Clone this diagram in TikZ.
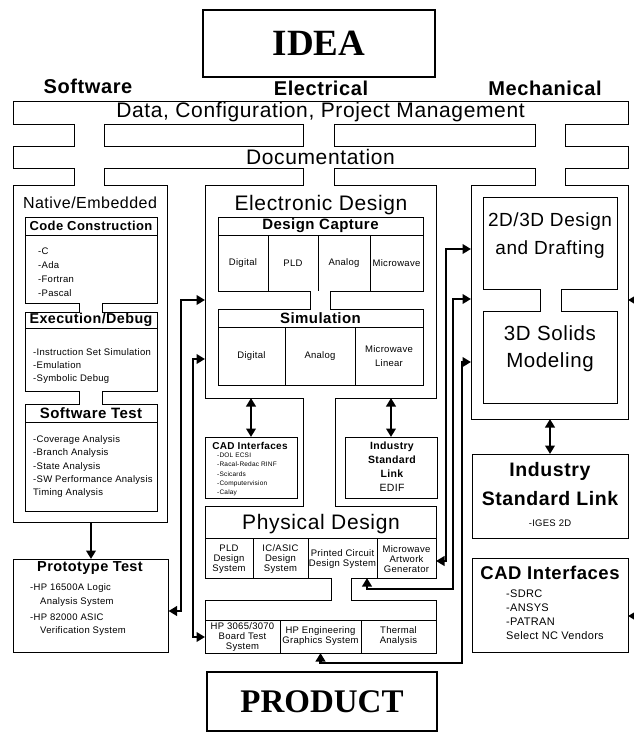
\documentclass[tikz,border=0pt]{standalone}
\usepackage{fontspec}
\setmainfont{Liberation Sans}[LetterSpace=3]
\newfontfamily\titlefont{Liberation Serif}
\usetikzlibrary{arrows.meta}

\newcommand{\fsz}[1]{\fontsize{#1}{#1}\selectfont}
% opening between two outlined boxes
\newcommand{\busgap}[4]{%
  \fill[white] (#1+0.5,#3-1.5) rectangle (#2-0.5,#4+1.5);
  \draw[rule] (#1,#3) -- (#1,#4) (#2,#3) -- (#2,#4);}

\begin{document}
\begin{tikzpicture}[x=1pt,y=-1pt,
    rule/.style={line width=0.8pt},
    box/.style={draw, line width=0.8pt, inner sep=0pt, outer sep=0pt},
    wh/.style 2 args={minimum width=#1pt, minimum height=#2pt},
    bigbox/.style={draw, line width=2.8pt, inner sep=0pt},
    txt/.style={inner sep=0pt},
    head/.style={txt, font=\bfseries\fsz{15}},
    item/.style={txt, anchor=west, font=\fsz{9.5}},
    cell/.style={txt, align=center, font=\fontsize{9.5}{10}\selectfont},
    link/.style={line width=2.6pt, {Triangle[length=8.5pt,width=9.5pt]}-{Triangle[length=8.5pt,width=9.5pt]}},
    feed/.style={line width=2.6pt, -{Triangle[length=8.5pt,width=9.5pt]}}]

    \fill[white] (0,0) rectangle (633,733);
    \useasboundingbox (0,0) rectangle (633,733);

    % Start and end
    \node[bigbox, wh={232}{67}, font=\titlefont\bfseries\fsz{37}] (idea) at (319,43.5) {IDEA};
    \node[bigbox, wh={230}{59}, font=\titlefont\bfseries\fsz{33}] (product) at (322,701.5) {PRODUCT};

    % Disciplines
    \node[txt, font=\bfseries\fsz{20}] (lsw) at (88,86) {Software};
    \node[txt, font=\bfseries\fsz{20}] (lel) at (321,88) {Electrical};
    \node[txt, font=\bfseries\fsz{20}] (lme) at (545,88) {Mechanical};

    % Shared bars
    \node[box, wh={615}{23}, font=\fsz{21}] (data) at (320.5,112.5) {Data, Configuration, Project Management};
    \node[box, wh={615}{22}, font=\fsz{21}] (doc) at (320.5,157) {Documentation};

    % Column frames
    \node[box, wh={154}{337}] (sw) at (90,353.5) {};
    \node[box, wh={231}{213}] (el) at (320.5,291.5) {};
    \node[box, wh={157}{234}] (me) at (549.5,302) {};
    \node[box, wh={231}{72}] (phys) at (320.5,542) {};
    \node[box, wh={231}{53}] (board) at (320.5,626.5) {};

    % Openings of the bus
    \foreach \a/\b in {74/104,303/334,535/565}{
        \busgap{\a}{\b}{124}{146}
        \busgap{\a}{\b}{168}{185}
    }
    \busgap{303}{335}{398}{506}
    \busgap{331}{351}{578}{600}

    % Software column
    \node[txt, font=\fsz{16}] (swt) at (90,203) {Native/Embedded};
    \node[box, wh={132}{86}] (code) at (91,260) {};
    \node[box, wh={132}{79}] (exec) at (91,351.5) {};
    \node[box, wh={132}{107}] (test) at (91,457.5) {};
    \busgap{79}{102}{303}{312}
    \busgap{79}{102}{391}{404}
    \draw[rule] (code.west |- 0,235) -- (code.east |- 0,235);
    \draw[rule] (exec.west |- 0,328) -- (exec.east |- 0,328);
    \draw[rule] (test.west |- 0,422) -- (test.east |- 0,422);
    \node[head, font=\bfseries\fsz{13}] (codeh) at (91,226) {Code Construction};
    \node[head, font=\bfseries\fsz{14.3}] (exech) at (91,320) {Execution/Debug};
    \node[head] (testh) at (91,413) {Software Test};
    \foreach \t [count=\i] in {-C,-Ada,-Fortran,-Pascal}
        \node[item] (ci\i) at (38,237+14*\i) {\t};
    \foreach \y/\t [count=\i] in {352/-Instruction Set Simulation,365/-Emulation,379/-Symbolic Debug}
        \node[item] (ei\i) at (33,\y) {\t};
    \foreach \y/\t [count=\i] in {440/-Coverage Analysis,453/-Branch Analysis,467/-State Analysis,480/-SW Performance Analysis,493/Timing Analysis}
        \node[item] (ti\i) at (33,\y) {\t};

    % Prototype test
    \node[box, wh={155}{93}] (proto) at (91,605.5) {};
    \node[head, font=\bfseries\fsz{14.5}] (protoh) at (90,568) {Prototype Test};
    \foreach \y/\x/\t [count=\i] in {588/30/-HP 16500A Logic,602/40/Analysis System,617/30/-HP 82000 ASIC,631/40/Verification System}
        \node[item] (pi\i) at (\x,\y) {\t};

    % Electrical column
    \node[txt, font=\fsz{21}] (elt) at (321,205) {Electronic Design};
    \node[box, wh={205}{74}] (dcap) at (320.5,254) {};
    \node[box, wh={205}{76}] (sim) at (320.5,347) {};
    \busgap{310}{330}{291}{309}
    \draw[rule] (dcap.west |- 0,235) -- (dcap.east |- 0,235);
    \foreach \x in {268,318,370} \draw[rule] (\x,235) -- (\x,291);
    \node[head] (dcaph) at (320.5,226) {Design Capture};
    \foreach \x/\t [count=\i] in {243/Digital,293/PLD,344/Analog,396.5/Microwave}
        \node[cell] (dc\i) at (\x,263) {\t};
    \draw[rule] (sim.west |- 0,327) -- (sim.east |- 0,327);
    \foreach \x in {285,355} \draw[rule] (\x,327) -- (\x,385);
    \node[head] (simh) at (320.5,318) {Simulation};
    \foreach \x/\t [count=\i] in {251.5/Digital,320/Analog}
        \node[cell] (sc\i) at (\x,356) {\t};
    \node[cell, font=\fontsize{9.5}{14}\selectfont] (sc3) at (389,356) {Microwave\\Linear};

    \node[box, wh={92}{61}] (cadE) at (251,467.5) {};
    \node[txt, font=\bfseries\fsz{10}] (cadEh) at (250,446) {CAD Interfaces};
    \foreach \t [count=\i] in {-DOL ECSI,-Racal-Redac RINF,-Scicards,-Computervision,-Calay}
        \node[txt, anchor=west, font=\fsz{6.5}] (cadE\i) at (217,445.5+9.5*\i) {\t};
    \node[box, wh={92}{61}] (indE) at (391,467.5) {};
    \node[txt, align=center, font=\bfseries\fontsize{10.5}{14}\selectfont] (indEt) at (392,460) {Industry\\Standard\\Link};
    \node[txt, font=\fsz{10.5}] (edif) at (392,488) {EDIF};

    \node[txt, font=\fsz{21}] (physt) at (321,524) {Physical Design};
    \draw[rule] (phys.west |- 0,538) -- (phys.east |- 0,538);
    \foreach \x in {253,308,377} \draw[rule] (\x,538) -- (\x,578);
    \node[cell] (pc1) at (229,559) {PLD\\Design\\System};
    \node[cell] (pc2) at (280.5,559) {IC/ASIC\\Design\\System};
    \node[cell] (pc3) at (342.5,559) {Printed Circuit\\Design System};
    \node[cell] (pc4) at (406.5,559) {Microwave\\Artwork\\Generator};

    \draw[rule] (board.west |- 0,620) -- (board.east |- 0,620);
    \foreach \x in {280,361} \draw[rule] (\x,620) -- (\x,653);
    \node[cell] (bc1) at (242.5,637) {HP 3065/3070\\Board Test\\System};
    \node[cell] (bc2) at (320.5,636) {HP Engineering\\Graphics System};
    \node[cell] (bc3) at (398.5,636) {Thermal\\Analysis};

    % Mechanical column
    \node[box, wh={134}{92}] (dd) at (550,243) {};
    \node[box, wh={134}{92}] (solid) at (550,357) {};
    \busgap{540}{561}{289}{311}
    \node[txt, align=center, font=\fontsize{19}{28}\selectfont] (ddt) at (550,236) {2D/3D Design\\and Drafting};
    \node[txt, align=center, font=\fontsize{20.5}{27}\selectfont] (solidt) at (550,348.5) {3D Solids\\Modeling};

    \node[box, wh={156}{84}] (indM) at (550,496) {};
    \node[txt, font=\bfseries\fsz{19.5}] (indM1) at (550,471) {Industry};
    \node[txt, font=\bfseries\fsz{19.5}] (indM2) at (550,499) {Standard Link};
    \node[txt, font=\fsz{9.5}] (indM3) at (550,523) {-IGES 2D};

    \node[box, wh={156}{94}] (cadM) at (550,605) {};
    \node[txt, font=\bfseries\fsz{18.5}] (cadMh) at (550,573) {CAD Interfaces};
    \foreach \y/\t [count=\i] in {594/-SDRC,608/-ANSYS,622/-PATRAN,636/Select NC Vendors}
        \node[txt, anchor=west, font=\fsz{11}] (cadM\i) at (506,\y) {\t};

    % Links
    \draw[feed] (proto.north |- sw.south) -- (proto.north);
    \draw[link] (el.west |- 0,300) -- (181,300) -- (181,611) -- (proto.east |- 0,611);
    \draw[link] (el.west |- 0,359) -- (193,359) -- (193,637) -- (board.west |- 0,637);
    \draw[link] (cadE.north |- el.south) -- (cadE.north);
    \draw[link] (indE.north |- el.south) -- (indE.north);
    \draw[link] (me.west |- 0,249) -- (446,249) -- (446,561) -- (phys.east |- 0,561);
    \draw[link] (me.west |- 0,299) -- (453,299) -- (453,589) -- (367,589) -- (phys.south -| 367,0);
    \draw[link] (me.west |- 0,362) -- (462,362) -- (462,663) -- (board.south |- 0,663) -- (board.south);
    \draw[link] (indM.north |- me.south) -- (indM.north);

    % Links from outside the sheet
    \coordinate (offA) at (650,300);
    \coordinate (offB) at (650,616);
    \draw[feed] (offA) -- (me.east |- offA);
    \draw[feed] (offB) -- (cadM.east |- offB);
\end{tikzpicture}
\end{document}
